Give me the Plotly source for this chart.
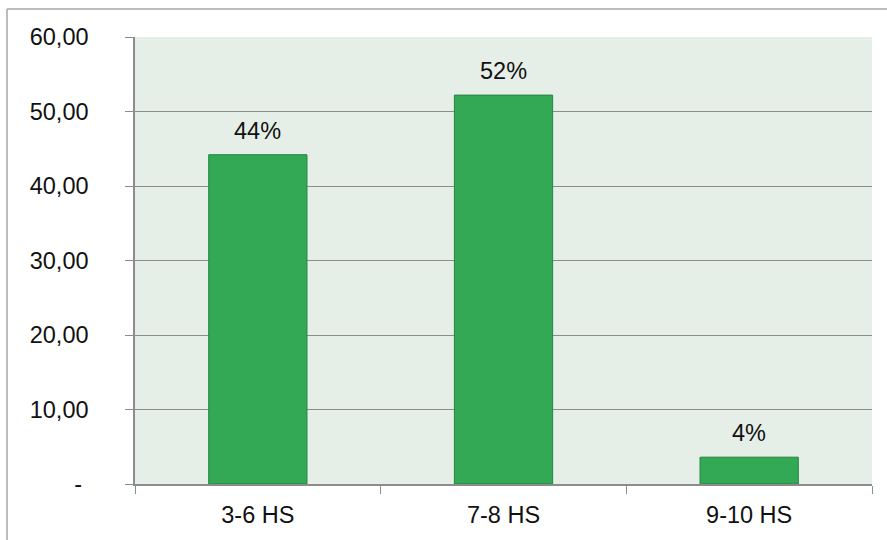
import plotly.graph_objects as go

# Share of respondents by hours of sleep
categories = ["3-6 HS", "7-8 HS", "9-10 HS"]
values = [44.2, 52.2, 3.6]
y_ticks = [0, 10, 20, 30, 40, 50, 60]
y_tick_text = ["-\u00a0", "10,00", "20,00", "30,00", "40,00", "50,00", "60,00"]

W, H = 887, 540
ML, MR, MT, MB = 135, 15, 37, 56
pw, ph = W - ML - MR, H - MT - MB

FONT = "Liberation Sans, Arial, sans-serif"
FS = 23.5
GRID = "#8c8c8c"

fig = go.Figure()
fig.add_trace(go.Bar(
    x=categories,
    y=values,
    marker=dict(color="#33a855", line=dict(color="#25843f", width=1)),
    width=0.4,
    hoverinfo="skip",
))

for c, v in zip(categories, values):
    fig.add_annotation(
        x=c, y=v, text=f"{round(v)}%", showarrow=False,
        yanchor="bottom", yshift=9,
        font=dict(family=FONT, size=FS, color="#111111"),
    )


def px_x(p):
    return (p - ML) / pw


def px_y(p):
    return (H - MB - p) / ph


# Outer frame (top and left edges)
fig.add_shape(type="line", xref="paper", yref="paper",
              x0=px_x(7), x1=px_x(900), y0=px_y(9), y1=px_y(9),
              line=dict(color="#a6a6a6", width=1.5))
fig.add_shape(type="line", xref="paper", yref="paper",
              x0=px_x(7), x1=px_x(7), y0=px_y(9), y1=px_y(560),
              line=dict(color="#a6a6a6", width=1.5))

fig.update_layout(
    width=W, height=H,
    margin=dict(l=ML, r=MR, t=MT, b=MB),
    paper_bgcolor="white",
    plot_bgcolor="#e6efe7",
    showlegend=False,
    font=dict(family=FONT, size=FS, color="#111111"),
    xaxis=dict(
        type="category",
        tickson="boundaries",
        ticks="outside", ticklen=8, tickcolor=GRID, tickwidth=1,
        showline=True, linecolor=GRID, linewidth=1.5,
        showgrid=False,
        ticklabelstandoff=9,
        tickfont=dict(family=FONT, size=FS, color="#111111"),
    ),
    yaxis=dict(
        range=[0, 60],
        tickvals=y_ticks, ticktext=y_tick_text,
        ticks="outside", ticklen=8, tickcolor=GRID, tickwidth=1,
        showline=True, linecolor=GRID, linewidth=1.5,
        showgrid=True, gridcolor=GRID, gridwidth=1,
        zeroline=False,
        ticklabelstandoff=32,
        tickfont=dict(family=FONT, size=FS, color="#111111"),
    ),
)

fig.write_html("out.html")
